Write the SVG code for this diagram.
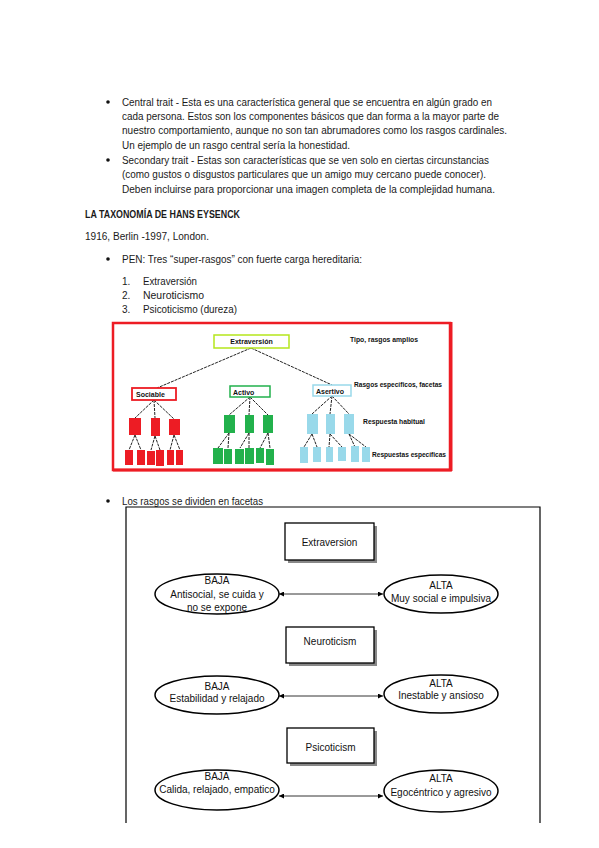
<svg xmlns="http://www.w3.org/2000/svg" width="599" height="848" viewBox="0 0 599 848">
<style>
.t{font-family:"Liberation Sans",Arial,sans-serif;font-size:10px;fill:#1a1a1a}
.b{font-weight:bold}
.s{font-family:"Liberation Sans",Arial,sans-serif;font-size:7px;font-weight:bold;fill:#111}
.d{font-family:"Liberation Sans",Arial,sans-serif;font-size:10px;fill:#111;text-anchor:middle}
.red{fill:#ed1c24}
.grn{fill:#22b14c}
.blu{fill:#99d9ea}
.tl{stroke:#222;stroke-width:1;stroke-dasharray:3 1;fill:none}
.ell{fill:#fff;stroke:#000;stroke-width:1.5}
.bx{fill:#fff;stroke:#000;stroke-width:1.3}
.sh{fill:#888}
.ar{stroke:#000;stroke-width:0.8;fill:none;marker-start:url(#ah);marker-end:url(#ah)}
</style>
<defs>
<marker id="ah" viewBox="0 0 6 6" refX="6" refY="3" markerWidth="5" markerHeight="5" orient="auto-start-reverse" markerUnits="userSpaceOnUse">
<path d="M0,0 L6,3 L0,6 z" fill="#000"/>
</marker>
</defs>
<rect width="599" height="848" fill="#fff"/>

<g id="text-top">
<circle cx="108" cy="102" r="1.8" fill="#111"/>
<text class="t" x="122" y="105.5" textLength="370" lengthAdjust="spacingAndGlyphs">Central trait - Esta es una característica general que se encuentra en algún grado en</text>
<text class="t" x="122" y="119.5" textLength="377" lengthAdjust="spacingAndGlyphs">cada persona. Estos son los componentes básicos que dan forma a la mayor parte de</text>
<text class="t" x="122" y="134" textLength="385" lengthAdjust="spacingAndGlyphs">nuestro comportamiento, aunque no son tan abrumadores como los rasgos cardinales.</text>
<text class="t" x="122" y="148.5" textLength="228" lengthAdjust="spacingAndGlyphs">Un ejemplo de un rasgo central sería la honestidad.</text>
<circle cx="108" cy="160" r="1.8" fill="#111"/>
<text class="t" x="122" y="163.5" textLength="367" lengthAdjust="spacingAndGlyphs">Secondary trait - Estas son características que se ven solo en ciertas circunstancias</text>
<text class="t" x="122" y="178" textLength="364" lengthAdjust="spacingAndGlyphs">(como gustos o disgustos particulares que un amigo muy cercano puede conocer).</text>
<text class="t" x="122" y="192.5" textLength="373" lengthAdjust="spacingAndGlyphs">Deben incluirse para proporcionar una imagen completa de la complejidad humana.</text>
<text class="t b" x="85" y="217.5" textLength="155" lengthAdjust="spacingAndGlyphs">LA TAXONOMÍA DE HANS EYSENCK</text>
<text class="t" x="85" y="239.5" textLength="124" lengthAdjust="spacingAndGlyphs">1916, Berlin -1997, London.</text>
<circle cx="108" cy="259" r="1.8" fill="#111"/>
<text class="t" x="122" y="262.5" textLength="240" lengthAdjust="spacingAndGlyphs">PEN: Tres “super-rasgos” con fuerte carga hereditaria:</text>
<text class="t" x="122" y="284.5">1.</text>
<text class="t" x="143" y="284.5" textLength="54" lengthAdjust="spacingAndGlyphs">Extraversión</text>
<text class="t" x="122" y="298.5">2.</text>
<text class="t" x="143" y="298.5" textLength="61" lengthAdjust="spacingAndGlyphs">Neuroticismo</text>
<text class="t" x="122" y="312.5">3.</text>
<text class="t" x="143" y="312.5" textLength="94" lengthAdjust="spacingAndGlyphs">Psicoticismo (dureza)</text>
<circle cx="108" cy="501" r="1.8" fill="#111"/>
<text class="t" x="122" y="504.5" textLength="141" lengthAdjust="spacingAndGlyphs">Los rasgos se dividen en facetas</text>
</g>

<g id="hierarchy">
<rect x="113" y="323" width="337" height="147" fill="#fff" stroke="#ed1c24" stroke-width="2.5"/>
<line x1="113" y1="470" x2="452" y2="470" stroke="#ed1c24" stroke-width="3"/>
<line x1="451" y1="322" x2="451" y2="471" stroke="#ed1c24" stroke-width="3"/>
<g id="connectors-top">
<line class="tl" x1="251" y1="348" x2="157" y2="388"/>
<line class="tl" x1="251" y1="348" x2="332" y2="385"/>
<line class="tl" x1="154" y1="400" x2="135" y2="418"/>
<line class="tl" x1="154" y1="400" x2="155" y2="418"/>
<line class="tl" x1="154" y1="400" x2="174" y2="419"/>
<line class="tl" x1="135" y1="435" x2="129" y2="450"/>
<line class="tl" x1="135" y1="435" x2="141" y2="450"/>
<line class="tl" x1="155" y1="436" x2="151" y2="450"/>
<line class="tl" x1="155" y1="436" x2="160" y2="450"/>
<line class="tl" x1="174" y1="435" x2="170" y2="450"/>
<line class="tl" x1="174" y1="435" x2="180" y2="450"/>
<line class="tl" x1="250" y1="397" x2="229" y2="415"/>
<line class="tl" x1="250" y1="397" x2="249" y2="415"/>
<line class="tl" x1="250" y1="397" x2="268" y2="415"/>
<line class="tl" x1="229" y1="433" x2="218" y2="448"/>
<line class="tl" x1="229" y1="433" x2="228" y2="448"/>
<line class="tl" x1="249" y1="433" x2="240" y2="448"/>
<line class="tl" x1="249" y1="433" x2="249" y2="448"/>
<line class="tl" x1="268" y1="433" x2="260" y2="448"/>
<line class="tl" x1="268" y1="433" x2="270" y2="448"/>
<line class="tl" x1="332" y1="396" x2="312" y2="414"/>
<line class="tl" x1="332" y1="396" x2="330" y2="414"/>
<line class="tl" x1="332" y1="396" x2="349" y2="414"/>
<line class="tl" x1="312" y1="434" x2="304" y2="447"/>
<line class="tl" x1="312" y1="434" x2="317" y2="447"/>
<line class="tl" x1="330" y1="434" x2="329" y2="447"/>
<line class="tl" x1="330" y1="434" x2="342" y2="447"/>
<line class="tl" x1="349" y1="434" x2="355" y2="447"/>
<line class="tl" x1="349" y1="434" x2="366" y2="447"/>
</g>
<g id="n-extraversion-top">
<rect x="214" y="335" width="75" height="13" fill="#fff" stroke="#b5e61d" stroke-width="1.5"/>
<text class="s" x="251.5" y="344" text-anchor="middle" font-size="6">Extraversión</text>
</g>
<g id="n-sociable">
<rect x="132" y="388" width="44" height="12" fill="#fff" stroke="#ed1c24" stroke-width="1.8"/>
<text class="s" x="136" y="397">Sociable</text>
</g>
<g id="n-activo">
<rect x="230" y="386" width="40" height="11" fill="#fff" stroke="#22b14c" stroke-width="1.5"/>
<text class="s" x="233" y="394.5">Activo</text>
</g>
<g id="n-asertivo">
<rect x="313" y="385" width="38" height="11" fill="#fff" stroke="#99d9ea" stroke-width="1.5"/>
<text class="s" x="316" y="393.5">Asertivo</text>
</g>
<g id="red-blocks">
<rect class="red" x="129" y="418" width="12" height="17"/>
<rect class="red" x="151" y="418" width="9" height="18"/>
<rect class="red" x="169" y="419" width="11" height="16"/>
<rect class="red" x="125" y="450" width="8" height="15"/>
<rect class="red" x="137" y="450" width="8" height="15"/>
<rect class="red" x="147" y="451" width="8" height="14"/>
<rect class="red" x="156" y="450" width="8" height="16"/>
<rect class="red" x="167" y="450" width="7" height="15"/>
<rect class="red" x="176" y="450" width="7" height="15"/>
</g>
<g id="green-blocks">
<rect class="grn" x="224" y="415" width="11" height="18"/>
<rect class="grn" x="245" y="415" width="9" height="18"/>
<rect class="grn" x="263" y="415" width="10" height="18"/>
<rect class="grn" x="213" y="448" width="10" height="16"/>
<rect class="grn" x="224" y="449" width="8" height="15"/>
<rect class="grn" x="235" y="449" width="9" height="15"/>
<rect class="grn" x="245" y="448" width="9" height="16"/>
<rect class="grn" x="256" y="448" width="8" height="15"/>
<rect class="grn" x="266" y="449" width="8" height="16"/>
</g>
<g id="blue-blocks">
<rect class="blu" x="307" y="414" width="11" height="20"/>
<rect class="blu" x="326" y="414" width="9" height="20"/>
<rect class="blu" x="344" y="414" width="10" height="20"/>
<rect class="blu" x="300" y="447" width="8" height="16"/>
<rect class="blu" x="313" y="447" width="8" height="15"/>
<rect class="blu" x="326" y="447" width="7" height="15"/>
<rect class="blu" x="338" y="447" width="8" height="14"/>
<rect class="blu" x="351" y="446" width="8" height="16"/>
<rect class="blu" x="362" y="447" width="8" height="15"/>
</g>
<g id="level-labels">
<text class="s" x="350" y="342" textLength="68" lengthAdjust="spacingAndGlyphs">Tipo, rasgos amplios</text>
<text class="s" x="354" y="387" textLength="88" lengthAdjust="spacingAndGlyphs">Rasgos específicos, facetas</text>
<text class="s" x="363" y="424" textLength="62" lengthAdjust="spacingAndGlyphs">Respuesta habitual</text>
<text class="s" x="372" y="457" textLength="74" lengthAdjust="spacingAndGlyphs">Respuestas específicas</text>
</g>
</g>

<g id="facets">
<path d="M126,823 V507 H540 V823" fill="none" stroke="#000" stroke-width="1.2"/>
<g id="connectors">
<line class="ar" x1="279" y1="594" x2="383" y2="594"/>
<line class="ar" x1="279" y1="696" x2="383" y2="696"/>
<line class="ar" x1="279" y1="796" x2="383" y2="796"/>
</g>
<g id="n-extraversion">
<rect class="sh" x="288" y="526" width="89" height="37"/>
<rect class="bx" x="285" y="523" width="89" height="37"/>
<text class="d" x="329.5" y="546">Extraversion</text>
</g>
<g id="n-neuroticism">
<rect class="sh" x="289" y="630" width="88" height="36"/>
<rect class="bx" x="286" y="627" width="88" height="36"/>
<text class="d" x="330" y="645" font-size="9">Neuroticism</text>
</g>
<g id="n-psicoticism">
<rect class="sh" x="290" y="731" width="87" height="35"/>
<rect class="bx" x="287" y="728" width="87" height="35"/>
<text class="d" x="330.5" y="751">Psicoticism</text>
</g>
<g id="n-baja-1">
<ellipse class="ell" cx="217" cy="594" rx="62" ry="20"/>
<text class="d" x="217" y="584">BAJA</text>
<text class="d" x="217" y="598">Antisocial, se cuida y</text>
<text class="d" x="217" y="611">no se expone</text>
</g>
<g id="n-alta-1">
<ellipse class="ell" cx="441" cy="594" rx="57" ry="19"/>
<text class="d" x="441" y="589">ALTA</text>
<text class="d" x="441" y="602">Muy social e impulsiva</text>
</g>
<g id="n-baja-2">
<ellipse class="ell" cx="217" cy="695" rx="62" ry="19"/>
<text class="d" x="217" y="690">BAJA</text>
<text class="d" x="217" y="702">Estabilidad y relajado</text>
</g>
<g id="n-alta-2">
<ellipse class="ell" cx="441" cy="694" rx="57" ry="19"/>
<text class="d" x="441" y="687">ALTA</text>
<text class="d" x="441" y="699">Inestable y ansioso</text>
</g>
<g id="n-baja-3">
<ellipse class="ell" cx="217" cy="790" rx="62" ry="20"/>
<text class="d" x="217" y="780">BAJA</text>
<text class="d" x="217" y="793">Calida, relajado, empatico</text>
</g>
<g id="n-alta-3">
<ellipse class="ell" cx="441" cy="791" rx="57" ry="21"/>
<text class="d" x="441" y="782">ALTA</text>
<text class="d" x="441" y="796" font-size="9">Egocéntrico y agresivo</text>
</g>
</g>
</svg>
